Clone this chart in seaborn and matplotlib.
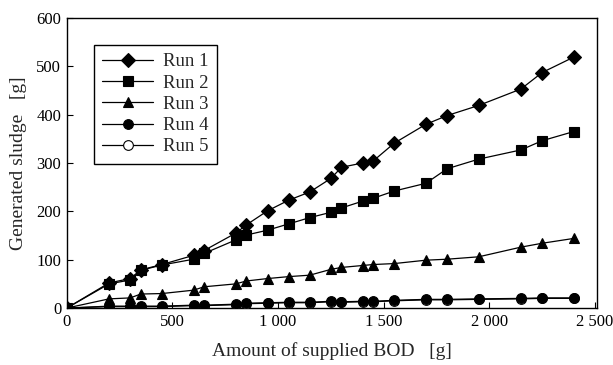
import matplotlib
matplotlib.use("Agg")
import matplotlib.pyplot as plt
import seaborn as sns
import pandas as pd

bod = [0, 200, 300, 350, 450, 600, 650, 800, 850, 950, 1050, 1150, 1250, 1300,
       1400, 1450, 1550, 1700, 1800, 1950, 2150, 2250, 2400]
run1 = [0, 52, 61, 79, 90, 109, 119, 155, 172, 201, 223, 240, 268, 291,
        300, 304, 341, 380, 398, 419, 453, 487, 519]
run2 = [0, 50, 58, 78, 89, 101, 113, 141, 151, 161, 174, 187, 198, 207,
        221, 227, 242, 258, 288, 308, 327, 346, 365]
run3 = [0, 19, 21, 29, 30, 37, 44, 50, 56, 61, 65, 68, 80, 84,
        88, 90, 92, 99, 101, 106, 126, 134, 144]
run4 = [0, 4, 4, 4, 4, 6, 6, 8, 10, 11, 12, 12, 14, 13,
        14, 14, 16, 18, 18, 19, 20, 21, 21]
run5 = [0, 3, 3, 3, 3, 5, 5, 7, 9, 10, 11, 11, 13, 12,
        13, 13, 15, 17, 17, 18, 19, 20, 20]
runs = ["Run 1", "Run 2", "Run 3", "Run 4", "Run 5"]

sns.set_theme(style="ticks")
plt.rcParams["font.family"] = ["Liberation Serif", "DejaVu Serif"]

fig = plt.figure(figsize=(6.13, 3.65), dpi=100)
ax = fig.add_axes([0.109, 0.156, 0.865, 0.795])

series = [run1, run2, run3, run4, run5]
markers = ["D", "s", "^", "o", "o"]
sizes = [7.5, 7.5, 7.5, 7, 7]
faces = ["black", "black", "black", "black", "white"]
order = [4, 3, 2, 1, 0]
for i in order:
    df = pd.DataFrame({"x": bod, "y": series[i]})
    sns.lineplot(data=df, x="x", y="y", ax=ax, color="black", lw=0.9,
                 marker=markers[i], markersize=sizes[i],
                 markerfacecolor=faces[i], markeredgecolor="black",
                 markeredgewidth=0.8, label=runs[i], zorder=3 + (4 - i))

h, l = ax.get_legend_handles_labels()
hd = dict(zip(l, h))
leg = ax.legend([hd[r] for r in runs], runs, loc="upper left",
                bbox_to_anchor=(0.051, 0.907), frameon=True, fancybox=False,
                edgecolor="black", framealpha=1, fontsize=13.5,
                handlelength=2.7, handletextpad=0.55, labelspacing=0.22,
                borderpad=0.45, borderaxespad=0)
leg.get_frame().set_linewidth(1.0)

ax.set_xlim(0, 2510)
ax.set_ylim(0, 600)
ax.set_xticks([0, 500, 1000, 1500, 2000, 2500])
ax.set_xticklabels(["0", "500", "1 000", "1 500", "2 000", "2 500"])
ax.set_yticks([0, 100, 200, 300, 400, 500, 600])
ax.tick_params(direction="in", length=4, width=0.8, labelsize=12,
               colors="black", pad=4)
for s in ax.spines.values():
    s.set_color("black")
    s.set_linewidth(1.0)
ax.set_xlabel("Amount of supplied BOD   [g]", fontsize=14, labelpad=9)
ax.set_ylabel("Generated sludge   [g]", fontsize=14, labelpad=7)

fig.savefig("out.png", dpi=100)
